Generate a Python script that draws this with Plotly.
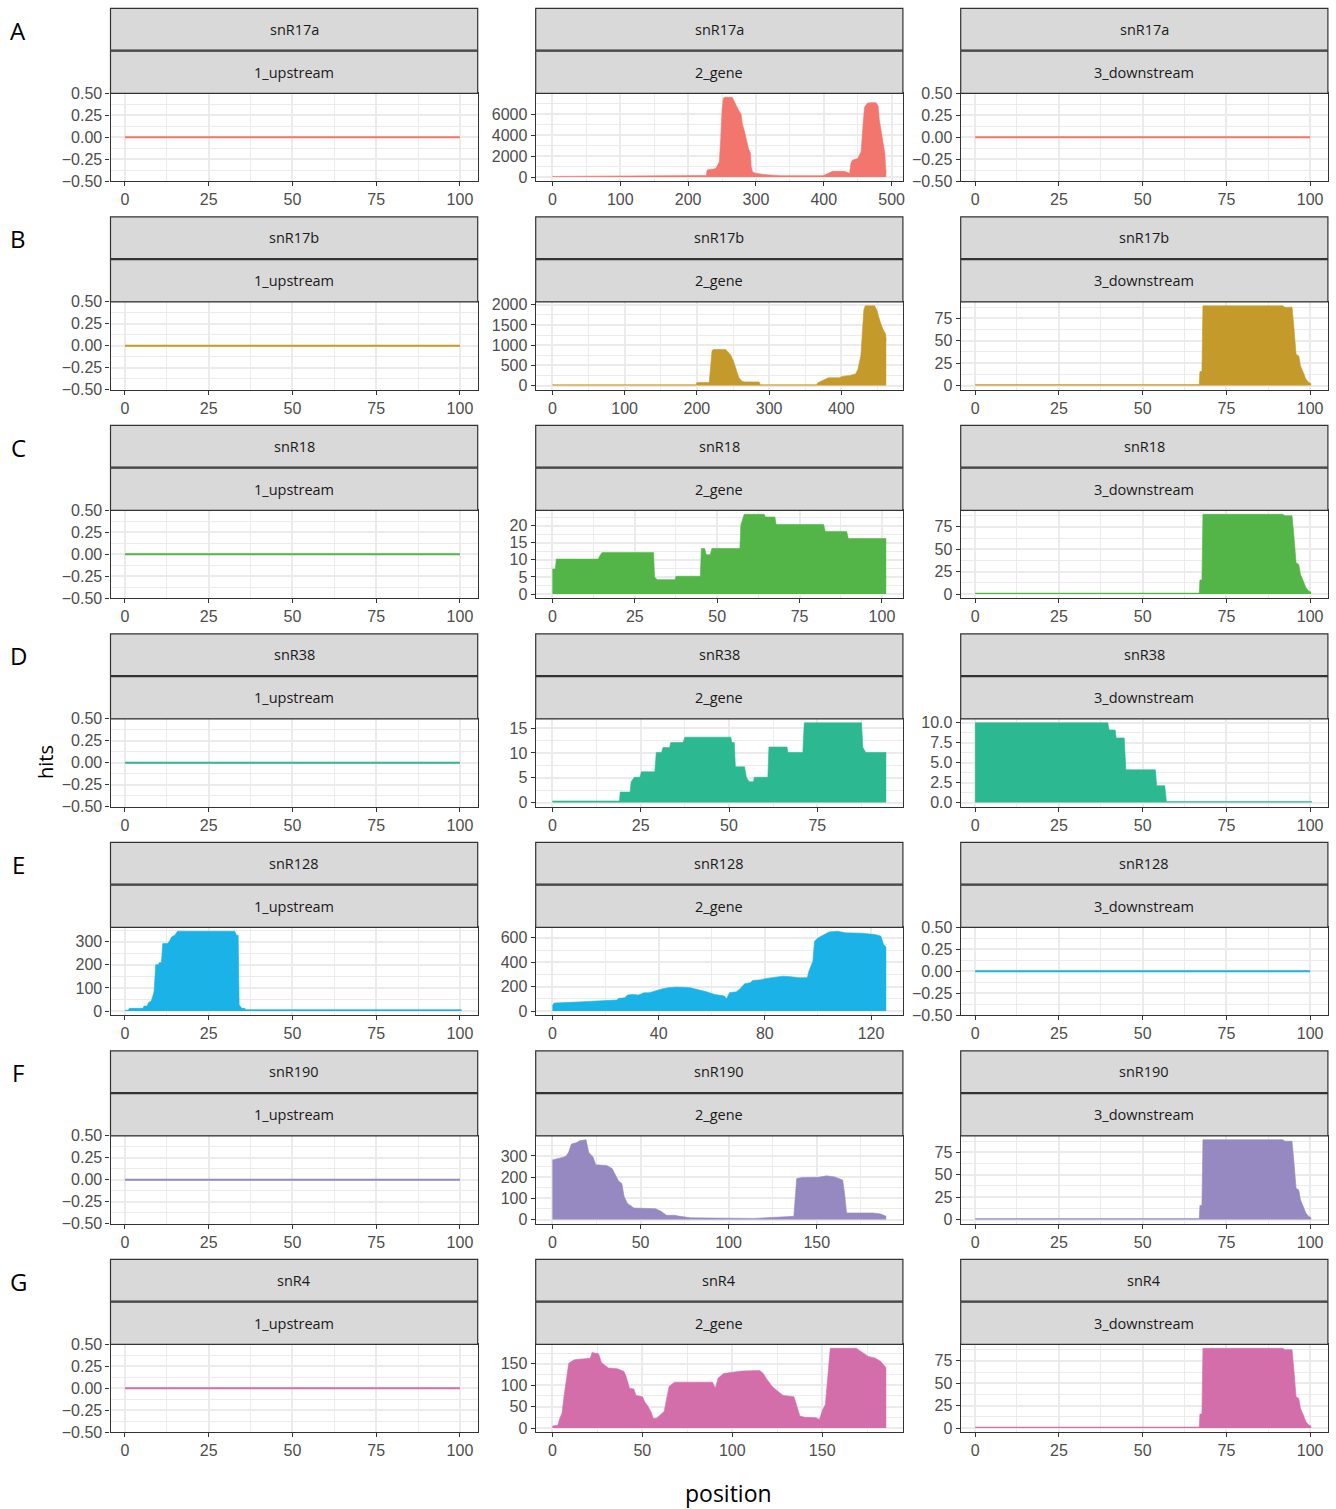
import plotly.graph_objects as go

W, H = 1336, 1509

GENES = ["snR17a", "snR17b", "snR18", "snR38", "snR128", "snR190", "snR4"]
ROW_LABELS = ["A", "B", "C", "D", "E", "F", "G"]
REGIONS = ["1_upstream", "2_gene", "3_downstream"]
COLORS = ["#F3766E", "#C49A2B", "#53B547", "#2CB891", "#1BB2E7", "#9689C1", "#D46EAB"]

# ---------------- data ----------------
ZERO_X = [0, 100]
ZERO_Y = [0, 0]

A_GENE_X = [0, 100, 200, 227, 228, 240, 243, 246, 248, 250, 252, 255, 265, 267, 270, 275, 278, 280, 284, 287,
            289, 292, 293, 295, 299, 316, 335, 399, 404, 413, 430, 435, 438, 440, 442, 450, 455, 458, 460, 464,
            469, 477, 480, 482, 485, 487, 490, 491, 492]
A_GENE_Y = [60, 70, 120, 150, 660, 790, 1040, 1450, 3500, 6300, 7530, 7600, 7600, 7340, 6800, 6300, 6000, 5070, 4130, 3180,
            2710, 2240, 980, 500, 350, 220, 130, 130, 280, 540, 540, 410, 350, 1290, 1600, 1760, 2400, 5070, 6650, 7020,
            7090, 7090, 6800, 5390, 4130, 3500, 2240, 980, 500]

B_GENE_X = [0, 199, 200, 217, 221, 223, 240, 243, 247, 251, 255, 258, 262, 266, 286, 288, 366, 367, 371, 378,
            382, 397, 401, 412, 420, 423, 427, 431, 433, 446, 449, 453, 457, 461, 462]
B_GENE_Y = [20, 20, 75, 75, 870, 890, 890, 830, 750, 580, 370, 200, 110, 90, 90, 20, 20, 60, 100, 150,
            190, 190, 225, 250, 290, 415, 750, 1865, 1975, 1975, 1865, 1615, 1410, 1285, 1120]

DOWN_X = [0, 66.9, 67.1, 67.7, 68.0, 91.8, 92.5, 94.6, 95.1, 95.8, 96.6, 97.1, 97.9, 98.7, 99.5, 100.3]
DOWN_Y = [1, 1, 15.6, 15.6, 89, 89, 87.4, 87.4, 67, 35, 33, 22, 15, 7.4, 3.7, 2]

C_GENE_X = [0, 0.9, 1.2, 13.9, 14.4, 15.1, 30.7, 31.0, 31.8, 37.2, 37.5, 44.9, 45.2, 46.2, 46.7,
            47.9, 48.4, 56.9, 57.2, 58.2, 64.3, 64.6, 67.5, 67.9, 82.3, 82.8, 89.3, 89.8, 101.3]
C_GENE_Y = [7.3, 7.3, 10.2, 10.2, 11.2, 12.1, 12.1, 5.0, 4.2, 4.2, 5.2, 5.2, 13.3, 13.3, 11.5,
            11.5, 13.3, 13.3, 20.2, 23.3, 23.3, 22.5, 22.5, 20.3, 20.3, 18.3, 18.3, 16.2, 16.2]

D_GENE_X = [0, 19.0, 19.2, 22.0, 22.3, 23.2, 24.8, 25.2, 29.0, 29.4, 30.9, 31.3, 33.2, 33.5, 37.0, 37.5, 50.5,
            50.8, 51.5, 51.8, 54.4, 54.9, 55.7, 56.9, 57.2, 61.0, 61.3, 66.4, 66.7, 70.9, 71.3, 87.5, 87.9, 88.7, 94.5]
D_GENE_Y = [0.3, 0.3, 2.1, 2.1, 4.2, 5.1, 5.1, 6.2, 6.2, 10.1, 10.1, 11.1, 11.1, 12.1, 12.1, 13.2, 13.2,
            12.1, 12.1, 7.2, 7.2, 5.1, 4.2, 4.2, 5.1, 5.1, 11.2, 11.2, 10.1, 10.1, 16.1, 16.1, 11.1, 10.1, 10.1]

D_DOWN_X = [0, 39.6, 40.0, 41.8, 42.1, 44.5, 45.0, 53.8, 54.2, 56.6, 57.1, 100.5]
D_DOWN_Y = [10.0, 10.0, 9.1, 9.1, 8.1, 8.1, 4.1, 4.1, 2.1, 2.1, 0.13, 0.13]

E_UP_X = [0, 1.0, 1.3, 5.4, 5.7, 6.7, 7.0, 7.9, 8.7, 9.2, 10.0, 10.3, 10.9, 11.3, 12.8, 13.3, 13.9, 14.9,
          15.7, 32.8, 33.3, 33.8, 34.1, 34.9, 35.7, 36.2, 100.5]
E_UP_Y = [3, 3, 11.5, 11.5, 21.6, 21.6, 36, 43, 83, 200, 200, 210, 210, 292, 292, 302, 320, 328,
          345, 345, 328, 328, 26, 11.5, 11.5, 6, 6]

E_GENE_X = [0, 0.6, 9.8, 18, 24.2, 25.2, 27.3, 28.3, 30.4, 32.4, 34.5, 36.5, 38.6, 41.6, 43.7, 46.8, 51.9, 55,
            58, 61.1, 64.8, 65.6, 66.7, 69.3, 70.4, 72.4, 74.5, 75.5, 78.6, 80.6, 83.7, 86.8, 89.8, 92.9, 96,
            96.6, 98.1, 98.7, 100.1, 102.2, 104.2, 107.3, 110.4, 116.5, 121.6, 123.7, 124.7, 125.7]
E_GENE_Y = [41, 65, 74, 82, 90, 104, 109, 131, 136, 131, 150, 150, 164, 183, 191, 196, 191, 177,
            158, 136, 123, 101, 150, 158, 177, 224, 232, 251, 256, 267, 278, 286, 281, 273, 273,
            327, 409, 573, 600, 627, 649, 654, 641, 638, 627, 614, 545, 524]

F_GENE_X = [0, 3.1, 6.2, 7.7, 9.2, 10.8, 13.9, 15.4, 19.1, 20.6, 23.1, 24.6, 30.8, 33.9, 35.4, 37.6, 39.4,
            40.7, 42.5, 44.7, 46.2, 58.5, 61.6, 64.7, 69.3, 72.4, 78.5, 114, 120, 132.4, 137, 138.6, 141.7,
            150.9, 155.5, 160.1, 164.7, 165.7, 166.9, 169.4, 181.7, 186.3, 189.4]
F_GENE_Y = [281, 286, 294, 298, 317, 356, 363, 371, 376, 317, 294, 258, 255, 240, 216, 181, 170,
            108, 77, 62, 54, 51, 39, 20, 20, 15, 8, 5, 8, 12, 15, 193, 198,
            199, 206, 201, 186, 128, 31, 31, 31, 26, 15]

G_GENE_X = [0, 3, 3.9, 5.4, 6.6, 7.5, 9.1, 12.1, 18.1, 21.1, 22, 25.7, 27.2, 29.6, 31.1, 36.2, 39.8, 41,
            42.9, 45.3, 46.5, 50.1, 51.3, 53.1, 54.9, 56.1, 58, 60.4, 62.2, 63.4, 64.9, 67.9, 89, 90.6, 92.1,
            95.1, 105.6, 115.3, 117.1, 119.2, 122.2, 125.3, 128.3, 134.3, 135.8, 137.6, 140.4, 146.4, 148.5,
            150.3, 151.8, 153.3, 154.5, 169, 172, 175.6, 179.6, 182.6, 185.6]
G_GENE_Y = [4.6, 6.2, 20, 35.5, 78, 109, 151, 159, 160.6, 163, 176, 173, 153, 144, 140, 138, 132, 120,
            93, 91, 76, 73, 61, 51, 37, 22, 23, 32, 39, 66, 97, 107, 107, 93, 116,
            127, 133, 134, 128, 114, 97, 86, 76, 73, 51, 28, 25, 24, 20,
            43, 55, 136, 186, 186, 178, 167, 163, 155, 140]

# panel data per row: (upstream, gene, downstream)
PANEL_DATA = [
    [(ZERO_X, ZERO_Y), (A_GENE_X, A_GENE_Y), (ZERO_X, ZERO_Y)],
    [(ZERO_X, ZERO_Y), (B_GENE_X, B_GENE_Y), (DOWN_X, DOWN_Y)],
    [(ZERO_X, ZERO_Y), (C_GENE_X, C_GENE_Y), (DOWN_X, DOWN_Y)],
    [(ZERO_X, ZERO_Y), (D_GENE_X, D_GENE_Y), (D_DOWN_X, D_DOWN_Y)],
    [(E_UP_X, E_UP_Y), (E_GENE_X, E_GENE_Y), (ZERO_X, ZERO_Y)],
    [(ZERO_X, ZERO_Y), (F_GENE_X, F_GENE_Y), (DOWN_X, DOWN_Y)],
    [(ZERO_X, ZERO_Y), (G_GENE_X, G_GENE_Y), (DOWN_X, DOWN_Y)],
]

# tick spacing per panel (x, y)
X_DTICK = [[25, 100, 25], [25, 100, 25], [25, 25, 25], [25, 25, 25], [25, 40, 25], [25, 50, 25], [25, 50, 25]]
Y_DTICK = [[0.25, 2000, 0.25], [0.25, 500, 25], [0.25, 5, 25], [0.25, 5, 2.5],
           [100, 200, 0.25], [0.25, 100, 25], [0.25, 50, 25]]
FLANK_XRANGE = [-4.3, 105.3]   # x-axis limits of the upstream / downstream panels

# ---------------- layout geometry (pixels) ----------------
COL_LEFT = [110.5, 535.7, 960.7]
PANEL_W = 367.2
ROW0, ROW_STEP = 8.3, 208.5
STRIP_H = 41.8
PLOT_TOP_OFF, PLOT_BOT_OFF = 85.0, 172.7

TICK_FONT = dict(family="Liberation Sans Narrow, Arial Narrow, Liberation Sans, sans-serif", size=16, color="#4D4D4D")
STRIP_FONT = dict(family="Open Sans, Liberation Sans, sans-serif", size=14.5, color="#1A1A1A")
GRID = "#EBEBEB"
DARK = "#333333"


def fx(px):
    return px / W


def fy(py):
    return 1 - py / H


fig = go.Figure()
layout = dict(
    width=W, height=H, autosize=False,
    margin=dict(l=0, r=0, t=0, b=0, pad=0, autoexpand=False),
    paper_bgcolor="white", plot_bgcolor="white",
    showlegend=False,
)
shapes, annotations = [], []

n = 0
for r in range(7):
    top = ROW0 + ROW_STEP * r
    for c in range(3):
        n += 1
        xs, ys = PANEL_DATA[r][c]
        color = COLORS[r]
        is_zero = max(ys) == 0 and min(ys) == 0
        suffix = "" if n == 1 else str(n)
        if is_zero:
            fig.add_trace(go.Scatter(x=xs, y=ys, mode="lines", line=dict(color=color, width=2),
                                     hoverinfo="skip", xaxis="x" + suffix, yaxis="y" + suffix))
            yr = [-0.5, 0.5]
            yfmt = ".2f"
        else:
            fig.add_trace(go.Scatter(x=xs, y=ys, mode="lines", fill="tozeroy", fillcolor=color,
                                     line=dict(color=color, width=0.6),
                                     hoverinfo="skip", xaxis="x" + suffix, yaxis="y" + suffix))
            ymax, ymin = max(ys), 0
            span = ymax - ymin
            yr = [ymin - 0.05 * span, ymax + 0.05 * span]
            yfmt = ".1f" if Y_DTICK[r][c] == 2.5 else "d"
        if c == 1:
            xmin, xmax = min(xs), max(xs)
            xspan = xmax - xmin
            xr = [xmin - 0.05 * xspan, xmax + 0.05 * xspan]
        else:
            xr = FLANK_XRANGE

        left = COL_LEFT[c]
        right = left + PANEL_W
        ptop = top + PLOT_TOP_OFF
        pbot = top + PLOT_BOT_OFF

        common = dict(showline=True, mirror=True, linecolor=DARK, linewidth=1.2,
                      ticks="outside", ticklen=4, tickwidth=1, tickcolor=DARK,
                      tickfont=TICK_FONT, showgrid=True, gridcolor=GRID, gridwidth=1.8,
                      zeroline=False, tickmode="linear", tick0=0, automargin=False)
        layout["xaxis" + suffix] = dict(common, domain=[fx(left), fx(right)], range=xr,
                                        dtick=X_DTICK[r][c], anchor="y" + suffix,
                                        minor=dict(dtick=X_DTICK[r][c] / 2, tick0=0, showgrid=True,
                                                   gridcolor=GRID, gridwidth=0.9))
        layout["yaxis" + suffix] = dict(common, domain=[fy(pbot), fy(ptop)], range=yr,
                                        dtick=Y_DTICK[r][c], tickformat=yfmt, anchor="x" + suffix,
                                        minor=dict(dtick=Y_DTICK[r][c] / 2, tick0=0, showgrid=True,
                                                   gridcolor=GRID, gridwidth=0.9))

        # strips
        s1 = (top, top + STRIP_H)
        s2 = (top + STRIP_H + 1.0, top + PLOT_TOP_OFF)
        for (a, b), txt in ((s1, GENES[r]), (s2, REGIONS[c])):
            shapes.append(dict(type="rect", xref="paper", yref="paper",
                               x0=fx(left), x1=fx(right), y0=fy(b), y1=fy(a),
                               fillcolor="#D9D9D9", line=dict(color=DARK, width=1.2), layer="above"))
            annotations.append(dict(text=txt, xref="paper", yref="paper", x=fx((left + right) / 2),
                                    y=fy((a + b) / 2), showarrow=False, xanchor="center", yanchor="middle",
                                    font=STRIP_FONT))
    annotations.append(dict(text=ROW_LABELS[r], xref="paper", yref="paper", x=fx(18), y=fy(top + 22),
                            showarrow=False, xanchor="center", yanchor="middle",
                            font=dict(family="Open Sans, Liberation Sans, sans-serif", size=24, color="black")))

annotations.append(dict(text="hits", xref="paper", yref="paper", x=fx(45), y=fy(762), textangle=-90,
                        showarrow=False, xanchor="center", yanchor="middle",
                        font=dict(family="Open Sans, Liberation Sans, sans-serif", size=20, color="black")))
annotations.append(dict(text="position", xref="paper", yref="paper", x=fx(728), y=fy(1493),
                        showarrow=False, xanchor="center", yanchor="middle",
                        font=dict(family="Open Sans, Liberation Sans, sans-serif", size=23, color="black")))

layout["shapes"] = shapes
layout["annotations"] = annotations
fig.update_layout(**layout)

fig.write_html("out.html", config={"displayModeBar": False},
               post_script="document.body.style.margin='0';document.body.style.overflow='hidden';")
